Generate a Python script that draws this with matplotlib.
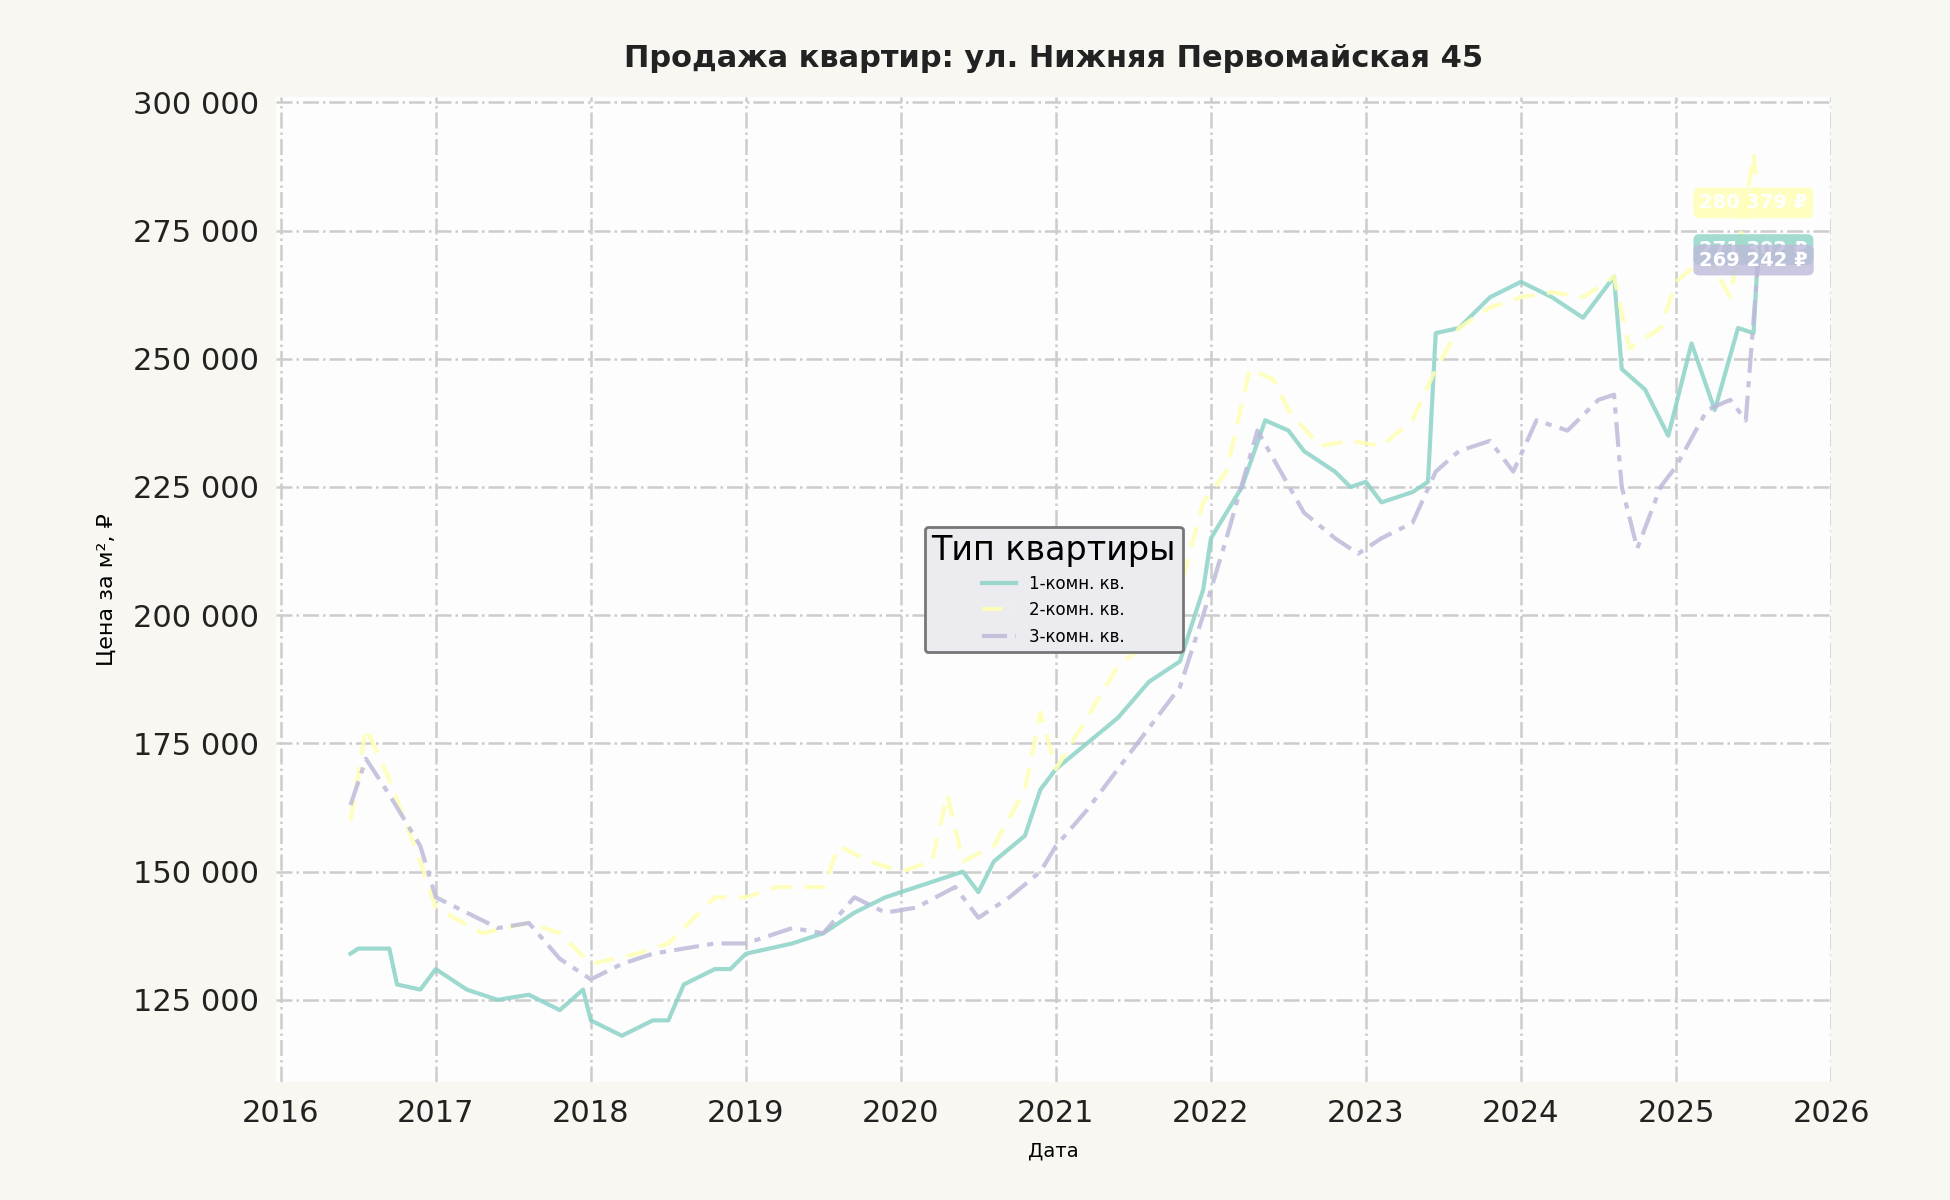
import matplotlib
matplotlib.use("Agg")
import matplotlib.pyplot as plt
from matplotlib.ticker import FuncFormatter

x1 = [2016.45,2016.5,2016.7,2016.75,2016.9,2017.0,2017.2,2017.4,2017.6,2017.8,2017.95,2018.0,2018.2,2018.4,2018.5,2018.6,2018.8,2018.9,2019.0,2019.3,2019.5,2019.7,2019.9,2020.0,2020.2,2020.4,2020.5,2020.6,2020.8,2020.9,2021.0,2021.2,2021.4,2021.6,2021.8,2021.95,2022.0,2022.2,2022.35,2022.5,2022.6,2022.8,2022.9,2023.0,2023.1,2023.3,2023.4,2023.45,2023.6,2023.8,2024.0,2024.2,2024.4,2024.6,2024.65,2024.8,2024.95,2025.1,2025.25,2025.4,2025.5,2025.53]
y1 = [134,135,135,128,127,131,127,125,126,123,127,121,118,121,121,128,131,131,134,136,138,142,145,146,148,150,146,152,157,166,170,175,180,187,191,205,215,225,238,236,232,228,225,226,222,224,226,255,256,262,265,262,258,266,248,244,235,253,240,256,255,271.302]
x2 = [2016.45,2016.55,2016.7,2016.9,2017.0,2017.3,2017.6,2017.8,2018.0,2018.3,2018.5,2018.8,2019.0,2019.2,2019.5,2019.6,2019.8,2020.0,2020.2,2020.3,2020.4,2020.6,2020.8,2020.9,2021.0,2021.2,2021.4,2021.6,2021.8,2021.95,2022.1,2022.25,2022.4,2022.5,2022.7,2022.9,2023.1,2023.3,2023.45,2023.6,2023.8,2024.0,2024.2,2024.4,2024.6,2024.7,2024.9,2025.0,2025.2,2025.35,2025.45,2025.5,2025.53]
y2 = [160,178,168,152,143,138,140,138,132,134,136,145,145,147,147,155,152,150,152,165,152,155,166,181,170,180,190,195,205,222,228,248,246,240,233,234,233,238,248,256,260,262,263,262,266,252,256,265,270,262,280,290,280.379]
x3 = [2016.45,2016.55,2016.7,2016.9,2017.0,2017.2,2017.4,2017.6,2017.8,2018.0,2018.2,2018.4,2018.6,2018.8,2019.0,2019.3,2019.5,2019.7,2019.9,2020.1,2020.35,2020.5,2020.7,2020.9,2021.0,2021.2,2021.4,2021.6,2021.8,2021.95,2022.1,2022.3,2022.45,2022.6,2022.8,2022.95,2023.1,2023.3,2023.45,2023.6,2023.8,2023.95,2024.1,2024.3,2024.5,2024.6,2024.65,2024.75,2024.9,2025.0,2025.2,2025.35,2025.45,2025.53]
y3 = [163,172,165,155,145,142,139,140,133,129,132,134,135,136,136,139,138,145,142,143,147,141,145,150,155,162,170,178,186,200,215,236,228,220,215,212,215,218,228,232,234,228,238,236,242,243,225,213,225,229,240,242,238,269.242]
names = ["1-комн. кв.", "2-комн. кв.", "3-комн. кв."]
last_labels = ["271 302 ₽", "280 379 ₽", "269 242 ₽"]
colors = ["#8dd3c7", "#ffffb3", "#bebada"]
styles = ["-", (0, (5, 3)), (0, (6, 2, 1.5, 2))]

plt.rcParams['font.family'] = ['DejaVu Sans']
fig = plt.figure(figsize=(19.5, 12), dpi=100, facecolor="#f8f7f2")
ax = fig.add_axes([0.1416, 0.0984, 0.7974, 0.8206], facecolor="#fdfdfd")

for xs, ys, n, c, s in zip([x1, x2, x3], [y1, y2, y3], names, colors, styles):
    ax.plot(xs, [v * 1000 for v in ys], color=c, ls=s, lw=3, alpha=0.85, label=n)

for xs, ys, lab, c in zip([x1, x2, x3], [y1, y2, y3], last_labels, colors):
    ax.text(2025.15, ys[-1] * 1000, lab, ha="left", va="center", color="white",
            fontsize=14, fontweight="bold",
            bbox=dict(boxstyle="round,pad=0.3", fc=c, ec="none", alpha=0.8))

ax.set_xlim(2015.97, 2026.0)
ax.set_ylim(109000, 301000)
ax.set_xticks(range(2016, 2027))
ax.set_yticks(range(125000, 300001, 25000))
ax.yaxis.set_major_formatter(FuncFormatter(lambda v, p: f"{int(v):,}".replace(",", " ")))
ax.grid(True, color="#cccccc", ls="-.", lw=1.8)
for sp in ax.spines.values():
    sp.set_visible(False)
ax.tick_params(labelsize=22, length=0, pad=12, colors="#222222")
ax.set_title("Продажа квартир: ул. Нижняя Первомайская 45", fontsize=22,
             fontweight="bold", pad=22, color="#222222")
ax.set_xlabel("Дата", fontsize=14, labelpad=10)
ax.set_ylabel("Цена за м², ₽", fontsize=16, labelpad=12)
leg = ax.legend(title="Тип квартиры", loc="center", fontsize=12, title_fontsize=24,
                frameon=True, facecolor="#ebebf0", edgecolor="#777777", framealpha=1)
leg.get_frame().set_linewidth(2)
fig.savefig("out.png", dpi=100, facecolor=fig.get_facecolor())
